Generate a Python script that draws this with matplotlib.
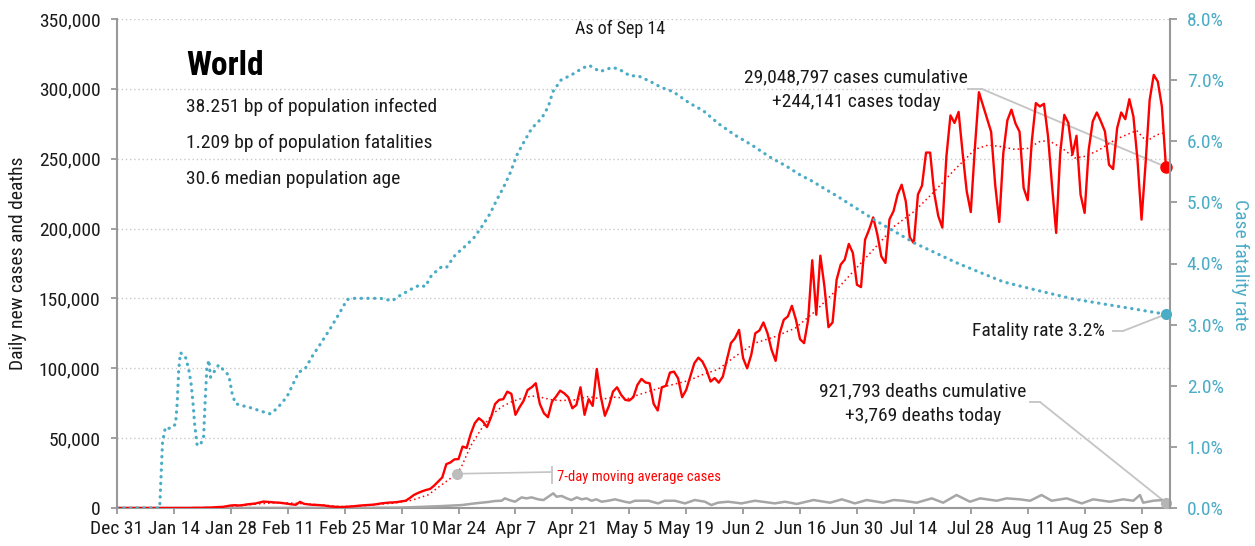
import matplotlib
matplotlib.use("Agg")
import matplotlib.pyplot as plt
import numpy as np
import pandas as pd
from matplotlib import font_manager
from matplotlib.lines import Line2D

# pick a narrow font if one is installed
fonts = font_manager.fontManager.ttflist
names = {f.name for f in fonts}
FONT, STRETCH = "Liberation Sans", "normal"
for cand in ["Liberation Sans Narrow", "Roboto Condensed", "Noto Sans Condensed",
             "Noto Sans SemiCondensed", "Open Sans Condensed"]:
    if cand in names:
        FONT = cand
        break
else:
    for fam in ["Noto Sans", "Open Sans", "DejaVu Sans"]:
        hits = [f for f in fonts if f.name == fam and f.stretch in ("condensed", "semi-condensed")]
        if hits:
            FONT, STRETCH = fam, hits[0].stretch
            break
plt.rcParams["font.family"] = [FONT, "DejaVu Sans"]
plt.rcParams["font.stretch"] = STRETCH

START = pd.Timestamp("2019-12-31")

# daily new cases, thousands, one value per day from Dec 31
cases_k = [
    0.03, 0, 0, 0.02, 0, 0.02, 0, 0, 0, 0, 0, 0, 0, 0, 0, 0, 0, 0, 0.02, 0.15,
    0.15, 0.15, 0.3, 0.3, 0.5, 0.7, 0.8, 1.3, 1.8, 2.0,
    1.8, 2.1, 2.6, 2.9, 3.2, 3.9, 4.6, 4.4, 4.2, 3.9,
    3.8, 3.4, 3.0, 2.6, 2.3, 4.4, 3.0, 2.6, 2.3, 2.2,
    2.0, 1.8, 1.3, 1.0, 0.8, 0.7, 0.8, 1.0, 1.2, 1.5,
    1.8, 2.0, 2.2, 2.4, 2.8, 3.3, 3.6, 3.9, 4.0,
    4.3, 4.8, 5.2, 7.1, 9.3, 10.7, 11.9, 12.9, 13.6, 16.0,
    19.0, 21.9, 31.4, 32.6, 34.8, 35.0, 44.0, 43.0, 53.0, 60.7,
    64.3, 61.9, 57.9, 65.0, 74.5, 77.4, 77.9, 83.3, 81.7, 66.7,
    72.1, 76.7, 84.5, 86.4, 89.3, 74.5, 67.9, 65.0, 76.2, 79.8,
    84.0, 82.1, 79.3, 71.4, 73.8, 86.4, 66.7, 77.9, 73.1, 99.5,
    79.8, 66.0, 73.1, 83.3, 86.4, 81.0, 77.4, 76.9, 79.3, 88.1,
    92.4, 89.8, 89.3, 74.5, 69.8, 86.4, 87.4, 96.9, 97.6, 92.9,
    79.3, 84.5, 94.0, 103.6, 107.6, 104.8, 98.8, 90.5, 93.0, 89.7,
    94.0, 106.0, 118.0, 121.5, 127.5, 107.2, 100.0, 109.6, 125.1, 127.0,
    132.8, 125.1, 113.2, 105.3, 125.1, 134.7, 137.1, 144.7, 134.7, 120.8,
    118.0, 134.7, 177.3, 138.3, 180.6, 158.6, 129.4, 132.8, 163.4, 174.2,
    177.8, 189.0, 182.5, 159.8, 158.1, 192.1, 199.3, 208.0, 196.0, 180.0,
    175.4, 206.6, 212.5, 224.4, 231.4, 219.6, 193.6, 189.6, 224.4, 230.7,
    254.4, 254.4, 225.5, 209.0, 200.7, 251.5, 281.0, 275.6, 283.5, 253.9,
    226.7, 211.8, 257.4, 297.6, 288.2, 278.7, 269.3, 231.4, 204.7, 253.9,
    277.5, 285.1, 275.2, 269.3, 229.1, 220.3, 262.2, 289.8, 287.4, 289.3,
    266.0, 230.2, 196.9, 254.0, 281.4, 275.5, 252.9, 266.4, 224.3, 211.2,
    256.4, 276.7, 283.1, 276.7, 269.5, 245.7, 242.6, 271.9, 283.1, 278.3,
    292.6, 280.2, 249.3, 206.4, 246.9, 292.1, 310.0, 305.2, 287.4, 244.141,
]

# 7-day moving average of cases (day offset, thousands)
avg_day = [0, 20, 25, 30, 35, 40, 45, 50, 55, 60, 65, 68.4, 72.5, 76.6, 79.9, 82.4,
           83.6, 84.8, 86, 87.3, 89.7, 92.2, 94.7, 97.2, 99.6, 102.1, 104.6, 107.1,
           109.1, 112.7, 116, 119.2, 122.5, 125.8, 127.4, 130.7, 134, 137.3, 140.6,
           143.8, 147.9, 152, 156.9, 161.9, 166.8, 171.7, 176.6, 181.5, 187, 191.3,
           196.2, 201.1, 206, 208.5, 211, 214.3, 217.5, 220.8, 224.1, 226.9, 229.1,
           232.4, 235.6, 238.1, 241.4, 245.5, 248.3, 250.8, 253.2, 255.7, 258]
avg_k = [0, 0.05, 0.4, 1.5, 3.0, 3.9, 3.2, 2.3, 1.0, 1.4, 2.8, 3.6, 5.5, 9.5, 16.7, 22,
         24.5, 30, 38, 46, 57, 66.7, 72.6, 76.2, 78.6, 80.2, 79.0, 77.4,
         76.9, 77.4, 79.8, 77.9, 79.3, 78.4, 80.2, 83.3, 86.4, 88.8, 91.2,
         95.2, 99.3, 108.4, 118.0, 122.7, 128.7, 140.7, 155.0, 170.6, 188.0, 201.9,
         212.5, 226.7, 242.1, 249.2, 256.7, 259.8, 258.6, 256.7, 257.4, 262.2, 263.1,
         257.6, 250.5, 251.7, 256.0, 263.6, 267.1, 270.2, 262.4, 267.1, 268.8]

# daily deaths (day offset, thousands)
death_day = [0, 20, 30, 40, 50, 60, 68.4, 72, 76.6, 80, 84.8, 88, 91.3, 93, 94.6, 95.4,
             96.7, 97.9, 99.5, 100.7, 102, 103.6, 104.9, 106.1, 107.3, 108.1, 109.4,
             110.6, 111.8, 113.1, 114.3, 115.5, 116.7, 117.9, 119.2, 120.8, 122.5,
             124.9, 126.1, 127.4, 130.7, 133.1, 134.7, 137.2, 139.7, 142.1, 144.6,
             146.2, 147.8, 150.3, 153.6, 156.9, 159.3, 161.8, 164.3, 167.2, 171.3,
             175.4, 178.3, 181.5, 184.4, 188.5, 191, 193.4, 196.7, 200.4, 203.2,
             206.5, 209.8, 212.3, 216.4, 218.8, 222.1, 224.6, 227.4, 229.9, 233.6,
             237.3, 240.1, 244.2, 247.5, 250, 251.6, 252.4, 254.9, 257.3, 258]
death_k = [0, 0.01, 0.05, 0.1, 0.1, 0.1, 0.3, 0.5, 1.0, 1.4, 2.1, 3.3, 4.3, 5.0, 5.2, 6.9,
           5.5, 4.5, 7.6, 6.9, 7.6, 6.2, 5.7, 8.1, 10.5, 8.1, 8.6,
           6.9, 5.7, 7.6, 6.2, 6.9, 5.2, 6.2, 4.5, 5.2, 6.2,
           4.5, 3.8, 5.2, 5.2, 3.3, 5.2, 5.2, 3.3, 5.7, 4.5,
           2.1, 3.8, 4.5, 3.3, 5.2, 4.3, 3.3, 4.5, 2.9, 5.7,
           3.8, 6.2, 3.3, 5.7, 3.8, 5.7, 5.2, 3.8, 6.9, 3.8,
           9.3, 4.5, 6.9, 5.2, 6.9, 6.2, 5.2, 9.3, 5.2, 6.9,
           3.3, 6.2, 4.5, 6.2, 5.2, 9.3, 3.8, 5.2, 5.7, 3.769]

# case fatality rate (day offset, percent)
cfr_day = [0, 10.5, 11.2, 11.9, 13.1, 14.4, 14.8, 15.2, 15.6, 16.8, 17.6, 18.2, 18.7,
           19.1, 19.7, 20.5, 21.3, 21.7, 22.1, 22.6, 23.0, 23.8, 25.0, 26.3, 27.5,
           28.3, 29.1, 30.4, 32.4, 36.1, 37.7, 39.4, 41.8, 43.9, 44.7, 46.3, 48.0,
           50.0, 52.5, 55.0, 56.6, 58.2, 64.8, 67.7, 69.7, 72.9, 74.6, 75.8, 77.4,
           79.9, 81.1, 83.2, 85.6, 87.9, 89.8, 91.8, 93.4, 95.1, 96.7, 98.4, 100.1,
           102.0, 104.5, 106.1, 107.2, 109.2, 111.9, 114.6, 116.2, 118.8, 121.9,
           123.7, 126.2, 128.2, 131.1, 133.9, 136.8, 140.9, 144.2, 147.9, 152.0,
           156.1, 160.6, 164.7, 168.0, 170.9, 177.9, 186.4, 196.3, 206.9, 218.0,
           227.0, 235.2, 243.4, 251.6, 258]
cfr_pct = [0, 0, 1.08, 1.32, 1.30, 1.37, 1.71, 2.28, 2.54, 2.48, 2.28, 2.05, 1.71,
           1.37, 1.03, 1.03, 1.17, 1.77, 2.28, 2.42, 2.14, 2.22, 2.34, 2.25, 2.17,
           1.88, 1.71, 1.68, 1.65, 1.57, 1.54, 1.63, 1.82, 2.11, 2.22, 2.28, 2.48,
           2.68, 2.94, 3.22, 3.41, 3.43, 3.43, 3.39, 3.48, 3.60, 3.65, 3.62, 3.81,
           3.95, 3.94, 4.14, 4.28, 4.43, 4.61, 4.82, 5.04, 5.25, 5.48, 5.78, 5.99,
           6.21, 6.38, 6.57, 6.81, 7.00, 7.09, 7.20, 7.24, 7.14, 7.21,
           7.17, 7.07, 7.07, 6.98, 6.88, 6.81, 6.62, 6.50, 6.29, 6.10,
           5.94, 5.74, 5.59, 5.45, 5.35, 5.07, 4.71, 4.33, 4.00, 3.70,
           3.55, 3.42, 3.33, 3.24, 3.17]

RED = "#ff0000"
BLUE = "#4bacc6"
GREY = "#a6a6a6"
AXIS = "#999999"
LEAD = "#c4c4c4"
INK = "#1a1a1a"


def to_dates(days):
    return START + pd.to_timedelta(np.asarray(days, dtype=float), unit="D")


dates = pd.date_range(START, periods=len(cases_k), freq="D")
cases = np.array(cases_k) * 1000
avg_dates, avg = to_dates(avg_day), np.array(avg_k) * 1000
death_dates, deaths = to_dates(death_day), np.array(death_k) * 1000
cfr_dates, cfr = to_dates(cfr_day), np.array(cfr_pct)

W, H = 1255, 546
fig = plt.figure(figsize=(W / 100, H / 100), dpi=100)
ax = fig.add_axes([117 / W, (H - 508) / H, (1170 - 117) / W, (508 - 19) / H])
ax2 = ax.twinx()

ax.plot(dates, cases, color=RED, lw=1.7, zorder=4)
ax.plot(avg_dates, avg, color=RED, lw=1.1, ls=(0, (1, 2)), zorder=3)
ax.plot(death_dates, deaths, color=GREY, lw=1.8, zorder=3)
ax2.plot(cfr_dates, cfr, color=BLUE, lw=2.3, ls=(0, (0.1, 2.0)),
         dash_capstyle="round", zorder=3)

# end dots
ax.plot(dates[-1], cases[-1], "o", color=RED, ms=8, zorder=5, clip_on=False)
ax.plot(death_dates[-1], deaths[-1], "o", color="#b5b5b5", ms=7, zorder=5, clip_on=False)
ax2.plot(cfr_dates[-1], cfr[-1], "o", color=BLUE, ms=7, zorder=5, clip_on=False)

# axes
ax.set_ylim(0, 350000)
ax.set_yticks(np.arange(0, 350001, 50000))
ax.set_yticklabels([f"{int(v):,}" for v in np.arange(0, 350001, 50000)])
ax2.set_ylim(0, 8)
ax2.set_yticks(np.arange(0, 8.01, 1))
ax2.set_yticklabels([f"{v:.1f}%" for v in np.arange(0, 8.01, 1)])

ticks = pd.date_range(START, periods=19, freq="14D")
ax.set_xlim(START, START + pd.Timedelta(days=259))
ax.set_xticks(ticks)
ax.set_xticklabels([f"{d:%b} {d.day}" for d in ticks])

ax.yaxis.grid(True, color="#c8c8c8", lw=1.0, ls=(0, (1, 2)))
ax.set_axisbelow(True)
for s in ["top", "right"]:
    ax.spines[s].set_visible(False)
for s in ["top", "left", "bottom"]:
    ax2.spines[s].set_visible(False)
for sp in [ax.spines["left"], ax.spines["bottom"], ax2.spines["right"]]:
    sp.set_color(AXIS)
    sp.set_linewidth(1.5)
ax.tick_params(axis="y", length=4, width=1.3, color=AXIS, labelsize=14, pad=8, labelcolor=INK)
ax.tick_params(axis="x", length=4, width=1.3, color=AXIS, labelsize=14, pad=5, labelcolor=INK)
ax2.tick_params(axis="y", length=5, width=1.3, color=AXIS, labelsize=14, pad=7, labelcolor=BLUE)


def fx(x):
    return x / W


def fy(y):
    return 1 - y / H


fig.text(fx(18), fy(263), "Daily new cases and deaths", rotation=90, ha="center",
         va="center", fontsize=14, color=INK)
fig.text(fx(1240), fy(265), "Case fatality rate", rotation=270, ha="center",
         va="center", fontsize=14, color=BLUE)

fig.text(fx(186), fy(66), "World", fontsize=24, fontweight="bold", va="center", color="black")
for txt, y in [("38.251 bp of population infected", 107),
               ("1.209 bp of population fatalities", 143),
               ("30.6 median population age", 179)]:
    fig.text(fx(186), fy(y), txt, fontsize=14, va="center", color=INK)
fig.text(fx(620), fy(29), "As of Sep 14", fontsize=13, ha="center", va="center", color=INK)

fig.text(fx(856), fy(77), "29,048,797 cases cumulative", fontsize=14, ha="center",
         va="center", color=INK)
fig.text(fx(856), fy(102), "+244,141 cases today", fontsize=14, ha="center",
         va="center", color=INK)
fig.text(fx(1105), fy(331), "Fatality rate 3.2%", fontsize=14, ha="right",
         va="center", color=INK)
fig.text(fx(923), fy(391), "921,793 deaths cumulative", fontsize=14, ha="center",
         va="center", color=INK)
fig.text(fx(923), fy(416), "+3,769 deaths today", fontsize=14, ha="center",
         va="center", color=INK)
fig.text(fx(557), fy(477), "7-day moving average cases", fontsize=10.5, ha="left",
         va="center", color=RED)


def leader(target_ax, xy, start, elbow):
    # horizontal stub then straight line to the data point
    fig.add_artist(Line2D([fx(start[0]), fx(elbow[0])], [fy(start[1]), fy(elbow[1])],
                          color=LEAD, lw=1.3))
    target_ax.annotate("", xy=xy, xycoords="data",
                       xytext=(elbow[0], H - elbow[1]), textcoords="figure pixels",
                       arrowprops=dict(arrowstyle="-", color=LEAD, lw=1.3,
                                       shrinkA=0, shrinkB=0), zorder=2)


leader(ax, (dates[-1], cases[-1]), (968, 89), (982, 89))
leader(ax2, (cfr_dates[-1], cfr[-1]), (1113, 331), (1123, 331))
leader(ax, (death_dates[-1], deaths[-1]), (1030, 402), (1040, 402))

# marker on the moving average line
mday = 83.6
mval = np.interp(mday, avg_day, avg)
ax.plot(to_dates([mday]), [mval], "o", color="#bdbdbd", ms=7, zorder=5)
ax.annotate("", xy=(to_dates([mday])[0], mval), xycoords="data",
            xytext=(551.7, H - 472), textcoords="figure pixels",
            arrowprops=dict(arrowstyle="-", color=LEAD, lw=1.2, shrinkA=0, shrinkB=0))
fig.add_artist(Line2D([fx(551.7), fx(551.7)], [fy(467), fy(483)], color=LEAD, lw=1.3))

fig.savefig("out.png", dpi=100)
